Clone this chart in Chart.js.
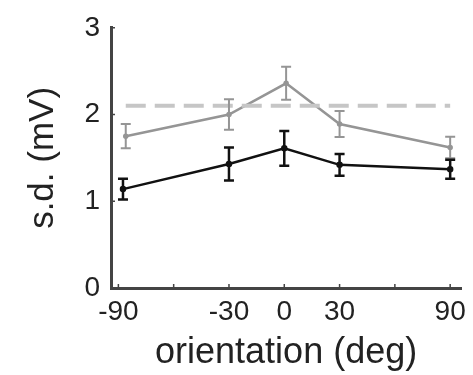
<!DOCTYPE html>
<html>
<head>
<meta charset="utf-8">
<script src="https://cdn.jsdelivr.net/npm/chart.js@4"></script>
<style>
  html, body { margin: 0; padding: 0; background: #fff; }
  #wrap { width: 473px; height: 375px; position: relative; }
</style>
</head>
<body>
<div id="wrap"><canvas id="myChart"></canvas></div>
<script>
// --- data ---
const xTicks = [-90, -60, -30, 0, 30, 60, 90];
const xLabels = [-90, -30, 0, 30, 90];
const yTicks = [0, 1, 2, 3];

const grayX = [-86, -30, 1, 30, 90];
const grayY = [1.75, 2.0, 2.36, 1.89, 1.62];
const grayErr = [0.14, 0.175, 0.19, 0.15, 0.125];

const blackX = [-87.5, -30, 0, 30, 90];
const blackY = [1.14, 1.43, 1.61, 1.42, 1.37];
const blackErr = [0.12, 0.19, 0.2, 0.125, 0.11];

const refX = [-86, 90];
const refY = [2.1, 2.1];

Chart.defaults.font.family = "'Liberation Sans', Arial, sans-serif";
Chart.defaults.color = '#222';

function toPoints(xs, ys) {
    return xs.map((x, i) => ({ x: x, y: ys[i] }));
}

// error bars drawn through the chart's own scales
const errorBars = {
    id: 'errorBars',
    afterDatasetsDraw(chart) {
        const ctx = chart.ctx;
        const xs = chart.scales.x, ys = chart.scales.y;
        chart.data.datasets.forEach(ds => {
            if (!ds.errors) return;
            ctx.save();
            ctx.strokeStyle = ds.borderColor;
            ctx.lineWidth = ds.errWidth || 2;
            ds.data.forEach((p, i) => {
                const px = xs.getPixelForValue(p.x);
                const top = ys.getPixelForValue(p.y + ds.errors[i]);
                const bot = ys.getPixelForValue(p.y - ds.errors[i]);
                ctx.beginPath();
                ctx.moveTo(px, top); ctx.lineTo(px, bot);
                ctx.moveTo(px - 5, top); ctx.lineTo(px + 5, top);
                ctx.moveTo(px - 5, bot); ctx.lineTo(px + 5, bot);
                ctx.stroke();
            });
            ctx.restore();
        });
    }
};

// small inward tick marks like the original axes
const innerTicks = {
    id: 'innerTicks',
    afterDraw(chart) {
        const ctx = chart.ctx;
        const area = chart.chartArea;
        const xs = chart.scales.x, ys = chart.scales.y;
        ctx.save();
        ctx.strokeStyle = '#444';
        ctx.lineWidth = 1.5;
        ctx.beginPath();
        xTicks.forEach(v => {
            const px = xs.getPixelForValue(v);
            ctx.moveTo(px, area.bottom); ctx.lineTo(px, area.bottom - 4);
        });
        yTicks.forEach(v => {
            const py = ys.getPixelForValue(v);
            ctx.moveTo(area.left, py); ctx.lineTo(area.left + 4, py);
        });
        ctx.stroke();
        ctx.restore();
    }
};

const ctx = document.getElementById('myChart').getContext('2d');
new Chart(ctx, {
    type: 'line',
    data: {
        datasets: [
            {
                data: toPoints(refX, refY),
                borderColor: '#c6c6c6',
                borderWidth: 4,
                borderDash: [20, 9],
                pointRadius: 0
            },
            {
                data: toPoints(grayX, grayY),
                errors: grayErr,
                errWidth: 2,
                borderColor: '#959595',
                backgroundColor: '#959595',
                borderWidth: 2.5,
                pointRadius: 1.5
            },
            {
                data: toPoints(blackX, blackY),
                errors: blackErr,
                errWidth: 2.5,
                borderColor: '#111',
                backgroundColor: '#111',
                borderWidth: 2.5,
                pointRadius: 2
            }
        ]
    },
    options: {
        responsive: true,
        maintainAspectRatio: false,
        animation: false,
        layout: { padding: { top: 24, right: 8, left: 0, bottom: 0 } },
        plugins: {
            legend: { display: false },
            tooltip: { enabled: false }
        },
        scales: {
            x: {
                type: 'linear',
                min: -94,
                max: 96,
                afterBuildTicks: s => { s.ticks = xTicks.map(v => ({ value: v })); },
                afterFit: s => { s.height = 87; },
                grid: { drawOnChartArea: false, drawTicks: false },
                border: { color: '#444', width: 3 },
                ticks: {
                    padding: 7,
                    autoSkip: false,
                    maxRotation: 0,
                    font: { size: 28 },
                    callback: v => xLabels.includes(v) ? String(v) : ''
                },
                title: {
                    display: true,
                    text: 'orientation (deg)',
                    font: { size: 36 },
                    padding: { top: 0, bottom: 0 }
                }
            },
            y: {
                min: 0,
                max: 3,
                afterBuildTicks: s => { s.ticks = yTicks.map(v => ({ value: v })); },
                afterFit: s => { s.width = 111; },
                grid: { drawOnChartArea: false, drawTicks: false },
                border: { color: '#444', width: 3 },
                ticks: {
                    padding: 11,
                    font: { size: 28 }
                },
                title: {
                    display: true,
                    text: 's.d. (mV)',
                    font: { size: 35 },
                    padding: { top: 22, bottom: 0 }
                }
            }
        }
    },
    plugins: [errorBars, innerTicks]
});
</script>
</body>
</html>
